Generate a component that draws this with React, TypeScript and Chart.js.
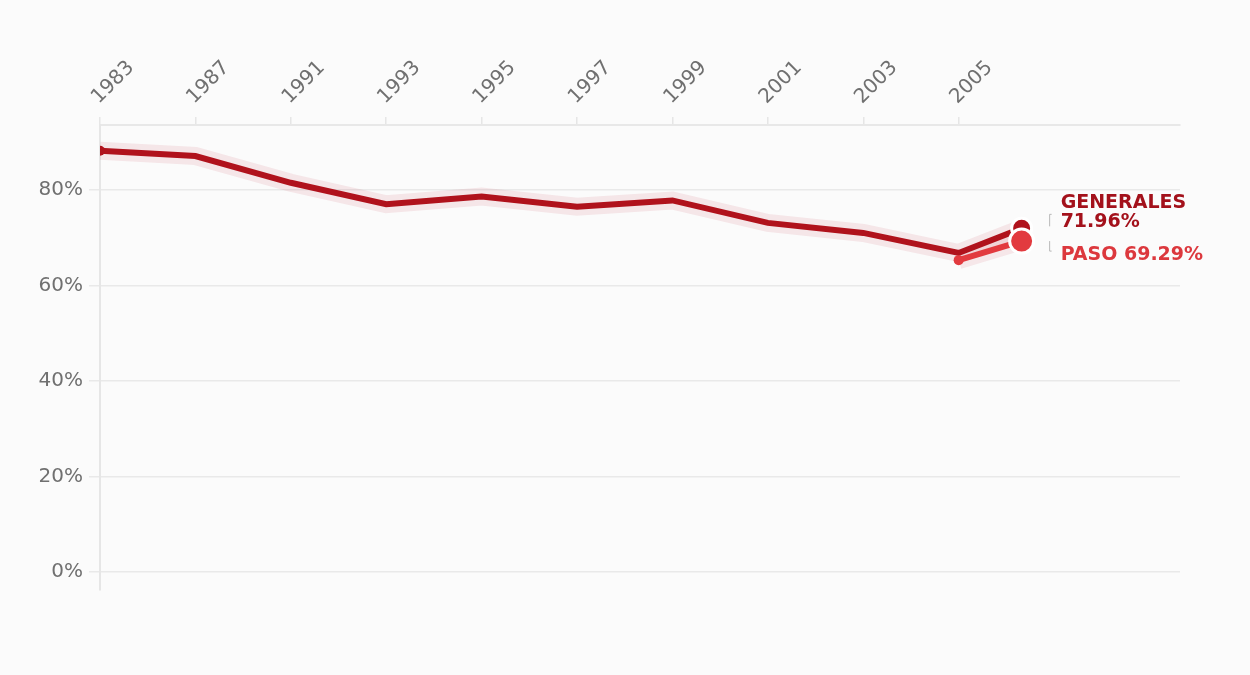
import React, { useEffect, useRef } from 'react';
import { Chart, registerables } from 'chart.js';

Chart.register(...registerables);

// ---- data ----
const yearLabels = ['1983', '1987', '1991', '1993', '1995', '1997', '1999', '2001', '2003', '2005'];
// position of each point along the (animated) category index axis
const generalesIndex = [0, 1, 2, 3, 4, 5, 6, 7, 8, 9, 9.66];
const generalesValues = [88.2, 87.1, 81.5, 77.0, 78.6, 76.5, 77.8, 73.1, 71.0, 66.8, 71.96];
const pasoIndex = [9, 9.66];
const pasoValues = [65.3, 69.29];
const yTicks = [0, 20, 40, 60, 80];
const generalesLabel = 'GENERALES';
const pasoLabel = 'PASO';

const DARK = '#b0121c';
const LIGHT = '#e23a3f';
const FONT = "'DejaVu Sans', sans-serif";

const toPoints = (xs: number[], ys: number[]) => xs.map((x, i) => ({ x, y: ys[i] }));

export default function App() {
  const ref = useRef<HTMLCanvasElement | null>(null);

  useEffect(() => {
    if (!ref.current) return;
    const gen = toPoints(generalesIndex, generalesValues);
    const paso = toPoints(pasoIndex, pasoValues);
    const genLast = gen.length - 1;
    const pasoLast = paso.length - 1;

    const bgPlugin = {
      id: 'bg',
      beforeDraw(chart: any) {
        const c = chart.ctx;
        c.save();
        c.fillStyle = '#fbfbfb';
        c.fillRect(0, 0, chart.width, chart.height);
        c.restore();
      },
    };

    const labelPlugin = {
      id: 'endLabels',
      afterDraw(chart: any) {
        const c = chart.ctx;
        const xs = chart.scales.x;
        const ys = chart.scales.y;
        const gx = xs.getPixelForValue(gen[genLast].x);
        const gy = ys.getPixelForValue(gen[genLast].y);
        const px = xs.getPixelForValue(paso[pasoLast].x);
        const py = ys.getPixelForValue(paso[pasoLast].y);
        const tx = gx + 39;
        c.save();
        c.textBaseline = 'middle';
        c.textAlign = 'left';
        c.fillStyle = '#a3111b';
        c.font = `bold 19px ${FONT}`;
        c.fillText(generalesLabel, tx, gy - 25);
        c.fillText(generalesValues[genLast].toFixed(2) + '%', tx, gy - 6);
        c.fillStyle = '#dc383d';
        c.fillText(`${pasoLabel} ${pasoValues[pasoLast].toFixed(2)}%`, px + 39, py + 14);
        // small connector brackets
        c.strokeStyle = '#b8b8b8';
        c.lineWidth = 1;
        c.beginPath();
        c.moveTo(tx - 9, gy - 14);
        c.lineTo(tx - 11, gy - 14);
        c.lineTo(tx - 11, gy - 2);
        c.moveTo(tx - 11, py + 0);
        c.lineTo(tx - 11, py + 10);
        c.lineTo(tx - 9, py + 10);
        c.stroke();
        c.restore();
      },
    };

    const chart = new Chart(ref.current, {
      type: 'line',
      data: {
        datasets: [
          {
            label: 'PASO',
            data: paso,
            borderColor: LIGHT,
            backgroundColor: LIGHT,
            borderWidth: 6,
            pointRadius: (ctx: any) => (ctx.dataIndex === pasoLast ? 12 : 5),
            pointBorderColor: (ctx: any) => (ctx.dataIndex === pasoLast ? '#ffffff' : LIGHT),
            pointBorderWidth: (ctx: any) => (ctx.dataIndex === pasoLast ? 3 : 0),
            pointBackgroundColor: LIGHT,
            tension: 0,
          },
          {
            label: 'GENERALES',
            data: gen,
            borderColor: DARK,
            backgroundColor: DARK,
            borderWidth: 6,
            pointRadius: (ctx: any) => (ctx.dataIndex === genLast ? 10 : ctx.dataIndex === 0 ? 5 : 0),
            pointBorderColor: (ctx: any) => (ctx.dataIndex === genLast ? '#ffffff' : DARK),
            pointBorderWidth: (ctx: any) => (ctx.dataIndex === genLast ? 3 : 0),
            pointBackgroundColor: DARK,
            tension: 0,
          },
          {
            label: 'PASO halo',
            data: paso,
            borderColor: 'rgba(200, 30, 50, 0.09)',
            borderWidth: 18,
            pointRadius: 0,
            tension: 0,
          },
          {
            label: 'GENERALES halo',
            data: gen,
            borderColor: 'rgba(190, 20, 40, 0.09)',
            borderWidth: 18,
            pointRadius: 0,
            tension: 0,
          },
        ],
      },
      options: {
        animation: false,
        responsive: false,
        maintainAspectRatio: false,
        layout: { padding: { left: 0, right: 70, top: 0, bottom: 85 } },
        plugins: { legend: { display: false }, tooltip: { enabled: false } },
        scales: {
          x: {
            type: 'linear',
            position: 'top',
            min: 0,
            max: 11.32,
            afterBuildTicks: (scale: any) => {
              scale.ticks = yearLabels.map((_, i) => ({ value: i }));
            },
            afterFit: (scale: any) => {
              scale.height = 125;
            },
            ticks: {
              autoSkip: false,
              minRotation: 45,
              maxRotation: 45,
              padding: 8,
              labelOffset: 12,
              color: '#707070',
              font: { family: FONT, size: 20 },
              callback: (v: any) => yearLabels[Math.round(Number(v))] ?? '',
            },
            grid: {
              drawOnChartArea: false,
              drawTicks: true,
              tickLength: 8,
              color: '#e6e6e6',
              lineWidth: 1.5,
            },
            border: { display: true, color: '#e8e8e8', width: 2 },
          },
          y: {
            type: 'linear',
            min: -3.77,
            max: 93.6,
            afterBuildTicks: (scale: any) => {
              scale.ticks = yTicks.map((v) => ({ value: v }));
            },
            afterFit: (scale: any) => {
              scale.width = 100;
            },
            ticks: {
              padding: 6,
              color: '#707070',
              font: { family: FONT, size: 20 },
              callback: (v: any) => `${v}%`,
            },
            grid: {
              color: '#e9e9e9',
              lineWidth: 1.5,
              tickLength: 11,
            },
            border: { display: true, color: '#e6e6e6', width: 2 },
          },
        },
      },
      plugins: [bgPlugin, labelPlugin],
    } as any);

    return () => chart.destroy();
  }, []);

  return (
    <div style={{ position: 'absolute', left: 0, top: 0, width: 1250, height: 675, background: '#fbfbfb' }}>
      <canvas ref={ref} width={1250} height={675} style={{ display: 'block', width: 1250, height: 675 }} />
    </div>
  );
}
